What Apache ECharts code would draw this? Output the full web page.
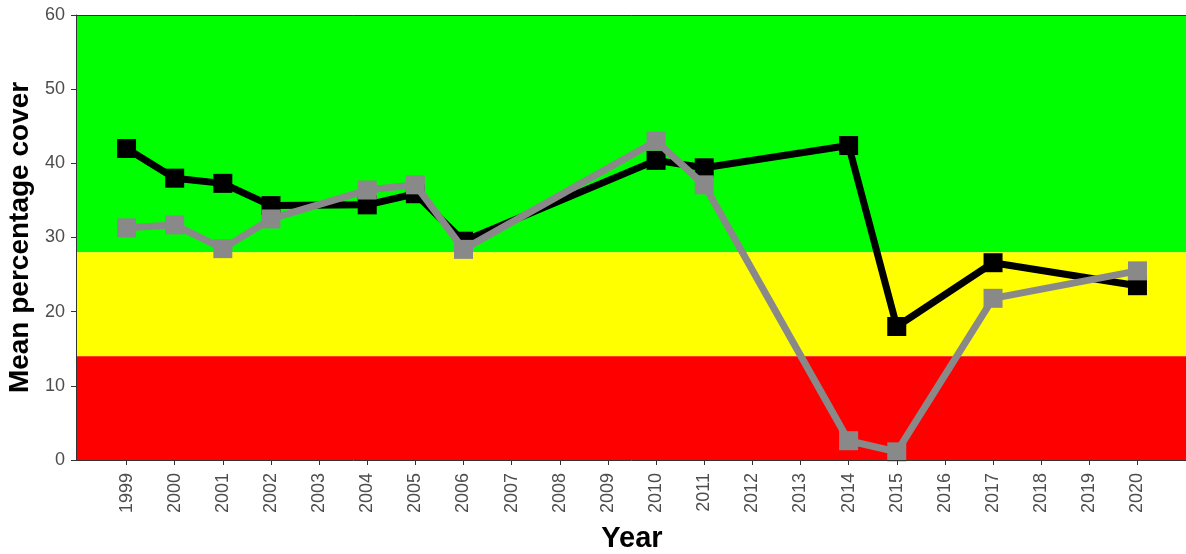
<!DOCTYPE html>
<html>
<head>
<meta charset="utf-8">
<script src="https://cdn.jsdelivr.net/npm/echarts@6/dist/echarts.min.js"></script>
<style>html,body{margin:0;padding:0;background:#fff}#c{width:1186px;height:554px}</style>
</head>
<body>
<div id="c"></div>
<script>
const years = [1999, 2000, 2001, 2002, 2004, 2005, 2006, 2010, 2011, 2014, 2015, 2017, 2020];
const blackValues = [42.0, 38.0, 37.3, 34.3, 34.4, 35.9, 29.5, 40.4, 39.4, 42.4, 18.0, 26.6, 23.5];
const greyValues = [31.3, 31.7, 28.5, 32.5, 36.4, 37.1, 28.4, 43.0, 37.1, 2.6, 1.1, 21.8, 25.5];
const tickYears = [1999,2000,2001,2002,2003,2004,2005,2006,2007,2008,2009,2010,2011,2012,2013,2014,2015,2016,2017,2018,2019,2020];
const bands = [
  {from: 28, to: 60, color: '#00FF00'},
  {from: 14, to: 28, color: '#FFFF00'},
  {from: 0, to: 14, color: '#FF0000'}
];

const chart = echarts.init(document.getElementById('c'), null, {renderer: 'canvas'});
const font = 'Liberation Sans, Arial, sans-serif';
chart.setOption({
  animation: false,
  backgroundColor: '#ffffff',
  grid: {left: 76, top: 15, width: 1112, height: 445, containLabel: false, outerBoundsMode: 'none'},
  xAxis: [{
    type: 'value', min: 1997.95, max: 2021.05, z: 10,
    name: 'Year', nameLocation: 'middle', nameGap: 64,
    nameTextStyle: {fontFamily: font, fontWeight: 'bold', fontSize: 29, color: '#000'},
    axisLine: {show: true, lineStyle: {color: '#333', width: 1}},
    axisTick: {show: true, length: 5, lineStyle: {color: '#333'}, customValues: tickYears},
    axisLabel: {show: true, rotate: 90, margin: 13, fontFamily: font, fontSize: 18, color: '#4d4d4d',
      customValues: tickYears, formatter: v => String(v)},
    splitLine: {show: false}
  }, {
    type: 'value', position: 'top', min: 1997.95, max: 2021.05, z: 10,
    axisLine: {show: true, onZero: false, lineStyle: {color: '#333', width: 1}},
    axisTick: {show: false}, axisLabel: {show: false}, splitLine: {show: false}
  }],
  yAxis: {
    type: 'value', min: 0, max: 60, interval: 10, z: 10,
    name: 'Mean percentage cover', nameLocation: 'middle', nameGap: 40,
    nameTextStyle: {fontFamily: font, fontWeight: 'bold', fontSize: 28, color: '#000'},
    axisLine: {show: true, lineStyle: {color: '#333', width: 1}},
    axisTick: {show: true, length: 5, lineStyle: {color: '#333'}},
    axisLabel: {margin: 11, fontFamily: font, fontSize: 18, color: '#4d4d4d'},
    splitLine: {show: false}
  },
  series: [
    {
      type: 'line', data: [], z: 1, silent: true,
      markArea: {
        silent: true,
        itemStyle: {opacity: 1},
        data: bands.map(b => [{yAxis: b.from, itemStyle: {color: b.color, opacity: 1}}, {yAxis: b.to}])
      }
    },
    {
      type: 'line', z: 3,
      data: years.map((y, i) => [y, blackValues[i]]),
      lineStyle: {color: '#000', width: 7},
      itemStyle: {color: '#000'},
      symbol: 'rect', symbolSize: 19, showAllSymbol: true
    },
    {
      type: 'line', z: 4,
      data: years.map((y, i) => [y, greyValues[i]]),
      lineStyle: {color: '#898989', width: 7},
      itemStyle: {color: '#898989'},
      symbol: 'rect', symbolSize: 19, showAllSymbol: true
    }
  ]
});
</script>
</body>
</html>
